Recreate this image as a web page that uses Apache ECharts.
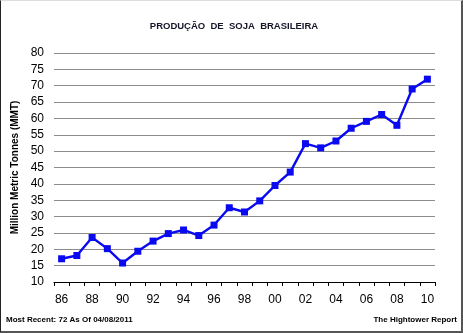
<!DOCTYPE html>
<html>
<head>
<meta charset="utf-8">
<script src="https://cdn.jsdelivr.net/npm/echarts@6/dist/echarts.min.js"></script>
<style>
  html, body { margin: 0; padding: 0; background: #fff; }
  #frame {
    position: relative; width: 463px; height: 333px; box-sizing: border-box;
    border-left: 1px solid #222; border-right: 2px solid #555; border-bottom: 2px solid #555; border-top: 1px solid #ddd;
    background: #fff; overflow: hidden;
  }
  #chart { position: absolute; left: -1px; top: -1px; width: 463px; height: 333px; }
</style>
</head>
<body>
<div id="frame"><div id="chart"></div></div>
<script>
// Crop years (two-digit) and Brazilian soybean production in million metric tonnes
const years = ['86','87','88','89','90','91','92','93','94','95','96','97','98','99','00','01','02','03','04','05','06','07','08','09','10'];
const production = [17.1, 18.1, 23.6, 20.2, 15.8, 19.4, 22.5, 24.8, 25.9, 24.2, 27.4, 32.7, 31.4, 34.8, 39.5, 43.6, 52.3, 51.0, 53.1, 57.0, 59.1, 61.2, 57.9, 69.0, 72.0];
const yTicks = [10, 15, 20, 25, 30, 35, 40, 45, 50, 55, 60, 65, 70, 75, 80];

const chart = echarts.init(document.getElementById('chart'), null, { renderer: 'canvas' });
chart.setOption({
  animation: false,
  backgroundColor: 'transparent',
  title: [
    {
      text: 'PRODUÇÃO  DE  SOJA  BRASILEIRA',
      left: 234, top: 21, textAlign: 'center', padding: 0,
      textStyle: { fontFamily: 'Liberation Sans, Arial, sans-serif', fontSize: 9.5, fontWeight: 'bold', color: '#15152a' }
    },
    {
      text: 'Most Recent: 72 As Of 04/08/2011',
      left: 6, top: 316, padding: 0,
      textStyle: { fontFamily: 'Liberation Sans, Arial, sans-serif', fontSize: 8, fontWeight: 'bold', color: '#000' }
    },
    {
      text: 'The Hightower Report',
      right: 6, top: 316, padding: 0,
      textStyle: { fontFamily: 'Liberation Sans, Arial, sans-serif', fontSize: 8, fontWeight: 'bold', color: '#000' }
    }
  ],
  grid: { left: 54, right: 28, top: 53, bottom: 51, containLabel: false },
  xAxis: {
    type: 'category',
    data: years,
    boundaryGap: true,
    axisLine: { show: true, lineStyle: { color: '#000', width: 1 } },
    axisTick: { show: true, length: 4, alignWithLabel: false, interval: 0, lineStyle: { color: '#000' } },
    axisLabel: {
      interval: 1, margin: 12,
      fontFamily: 'Liberation Sans, Arial, sans-serif', fontSize: 12, color: '#000'
    },
    splitLine: { show: false }
  },
  yAxis: {
    type: 'value',
    min: yTicks[0], max: yTicks[yTicks.length - 1], interval: 5,
    name: 'Million Metric Tonnes (MMT)',
    nameLocation: 'middle', nameGap: 27, nameRotate: 90,
    nameTextStyle: { fontFamily: 'Liberation Sans, Arial, sans-serif', fontSize: 10, fontWeight: 'bold', color: '#000' },
    axisLine: { show: false },
    axisTick: { show: false },
    axisLabel: { margin: 10, fontFamily: 'Liberation Sans, Arial, sans-serif', fontSize: 12, color: '#000' },
    splitLine: { show: true, lineStyle: { color: '#8c8c8c', width: 1.2 } }
  },
  series: [{
    type: 'line',
    data: production,
    symbol: 'rect',
    symbolSize: 7,
    lineStyle: { color: '#0a0af0', width: 2.4 },
    itemStyle: { color: '#0a0af0' },
    z: 5
  }]
});
</script>
</body>
</html>
